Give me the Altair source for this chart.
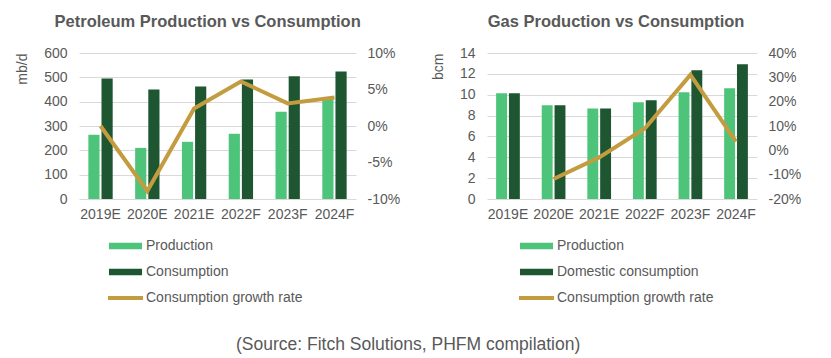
import altair as alt
import pandas as pd

years = ["2019E", "2020E", "2021E", "2022F", "2023F", "2024F"]

pet_production = [264, 210, 235, 268, 359, 410]
pet_consumption = [495, 450, 462, 491, 504, 524]
pet_growth = [0.0, -0.089, 0.024, 0.061, 0.031, 0.039]

gas_production = [10.13, 8.98, 8.69, 9.27, 10.23, 10.61]
gas_consumption = [10.13, 8.98, 8.69, 9.46, 12.34, 12.91]
gas_growth = [None, -0.118, -0.029, 0.09, 0.31, 0.036]

pet_ticks = [0, 100, 200, 300, 400, 500, 600]
pet_rticks = [-0.10, -0.05, 0.0, 0.05, 0.10]
gas_ticks = [0, 2, 4, 6, 8, 10, 12, 14]
gas_rticks = [-0.2, -0.1, 0.0, 0.1, 0.2, 0.3, 0.4]

LIGHT = "#4DC47A"
DARK = "#1D5630"
GOLD = "#C49C40"
TXT = "#595959"
GRID = "#D9D9D9"
FONT = "Liberation Sans"
GROWTH = "Consumption growth rate"

BAR_SYMBOL = "M-1,-0.2H1V0.2H-1Z"


def panel(title, unit, prod, cons, growth, cons_label, ticks, rticks, width, lx):
    series = ["Production", cons_label]
    bars_df = pd.DataFrame({
        "year": years * 2,
        "series": [series[0]] * len(years) + [series[1]] * len(years),
        "value": list(prod) + list(cons),
    })
    line_df = pd.DataFrame({
        "year": years,
        "growth": growth,
        "label": [GROWTH] * len(years),
    }).dropna()

    x = alt.X("year:N", sort=years, title=None,
              scale=alt.Scale(paddingInner=0.48),
              axis=alt.Axis(labelAngle=0, labelPadding=8, domain=False, ticks=False, grid=False))

    bars = alt.Chart(bars_df).mark_bar().encode(
        x=x,
        xOffset=alt.XOffset("series:N", sort=series, scale=alt.Scale(paddingInner=0.15)),
        y=alt.Y("value:Q",
                scale=alt.Scale(domain=[ticks[0], ticks[-1]], nice=False),
                axis=alt.Axis(values=ticks, title=unit, titleAnchor="end", titlePadding=14,
                              labelPadding=12, domain=False, ticks=False, grid=True,
                              gridColor=GRID, titleFontWeight="normal", titleFontSize=14,
                              titleColor=TXT)),
        fill=alt.Fill("series:N", sort=series,
                      scale=alt.Scale(domain=series, range=[LIGHT, DARK]),
                      legend=alt.Legend(title=None, orient="none", legendX=lx, legendY=183,
                                        symbolType=BAR_SYMBOL, symbolSize=1089,
                                        clipHeight=20, rowPadding=6, labelOffset=4,
                                        symbolStrokeWidth=0)),
    )

    line = alt.Chart(line_df).mark_line(strokeWidth=4, color=GOLD).encode(
        x=alt.X("year:N", sort=years, title=None),
        y=alt.Y("growth:Q",
                scale=alt.Scale(domain=[rticks[0], rticks[-1]], nice=False),
                axis=alt.Axis(orient="right", values=rticks, title=None, grid=False,
                              domain=False, ticks=False, labelPadding=11,
                              labelExpr="(datum.value < -0.0001 ? '-' : '') + format(abs(datum.value), '.0%')")),
        stroke=alt.Stroke("label:N",
                          scale=alt.Scale(domain=[GROWTH], range=[GOLD]),
                          legend=alt.Legend(title=None, orient="none", legendX=lx - 3, legendY=235,
                                            symbolType="stroke", symbolSize=1225,
                                            symbolStrokeWidth=4, clipHeight=20, labelOffset=1)),
    )

    return alt.layer(bars, line).resolve_scale(y="independent").properties(
        width=width, height=146,
        title=alt.TitleParams(title, font=FONT, fontSize=16.5, fontWeight="bold",
                              color=TXT, anchor="middle", frame="bounds", offset=16),
    )


p1 = panel("Petroleum Production vs Consumption", "mb/d", pet_production, pet_consumption,
           pet_growth, "Consumption", pet_ticks, pet_rticks, 277, 30)
p2 = panel("Gas Production vs Consumption", "bcm", gas_production, gas_consumption,
           gas_growth, "Domestic consumption", gas_ticks, gas_rticks, 270, 33)

chart = alt.hconcat(p1, p2, spacing=31).resolve_scale(
    x="independent", y="independent", fill="independent", stroke="independent",
    xOffset="independent",
).properties(
    title=alt.TitleParams("(Source: Fitch Solutions, PHFM compilation)", orient="bottom",
                          anchor="middle", font=FONT, fontSize=17.5, fontWeight="normal",
                          color=TXT, offset=28),
    padding={"left": 7, "top": 5, "right": 5, "bottom": 5},
).configure_view(stroke=None).configure_axis(
    labelFont=FONT, labelFontSize=14, labelColor=TXT, titleFont=FONT,
).configure_legend(
    labelFont=FONT, labelFontSize=14, labelColor=TXT,
)

chart.save("out.html", embed_options={"renderer": "svg", "actions": False})
